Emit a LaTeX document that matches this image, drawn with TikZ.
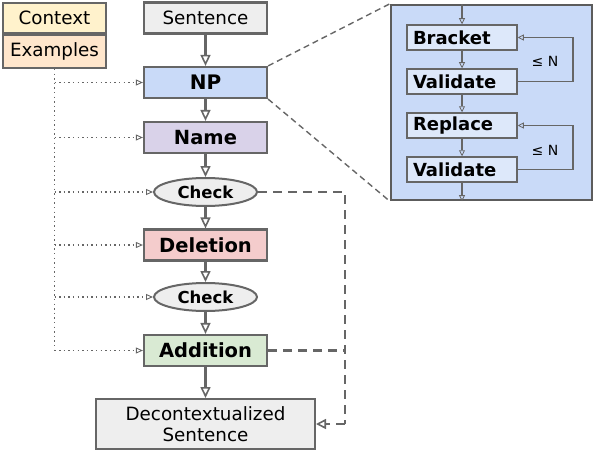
\documentclass[tikz,border=0pt]{standalone}
\usepackage{fontspec}
\setmainfont{DejaVu Sans}
\usetikzlibrary{arrows.meta,shapes.geometric}
\definecolor{bord}{HTML}{666666}
\definecolor{ctxc}{HTML}{FFF2CC}
\definecolor{exc}{HTML}{FFE6CC}
\definecolor{grayc}{HTML}{EEEEEE}
\definecolor{npc}{HTML}{C9DAF8}
\definecolor{namec}{HTML}{D9D2E9}
\definecolor{delc}{HTML}{F4CCCC}
\definecolor{addc}{HTML}{D9EAD3}
\definecolor{innerc}{HTML}{DDE8FA}
\tikzset{
  x=1pt,y=-1pt,
  box/.style={draw=bord, line width=2.2pt, minimum width=123pt, minimum height=31pt, inner sep=0pt, font=\fontsize{19.5}{22}\selectfont\bfseries},
  chk/.style={draw=bord, line width=2pt, ellipse, fill=grayc, minimum width=103pt, minimum height=28pt, inner sep=0pt, font=\fontsize{16.5}{18}\selectfont\bfseries},
  inbox/.style={draw=bord, line width=1.5pt, fill=innerc, minimum height=25pt, inner xsep=6pt, inner ysep=0pt, text width=98pt, align=left, font=\fontsize{18}{20}\selectfont\bfseries},
  mainarr/.style={draw=bord, line width=2.6pt, -{Triangle[open,length=11pt,width=10pt,line width=1.6pt]}},
  dotarr/.style={draw=bord, line width=1.4pt, dash pattern=on 1.4pt off 3.2pt, -{Triangle[open,length=7pt,width=6pt,line width=0.9pt,sep=0pt]}},
  dotline/.style={draw=bord, line width=1.4pt, dash pattern=on 1.4pt off 3.2pt},
  dashline/.style={draw=bord, line width=2.5pt, dash pattern=on 9pt off 6pt},
  dasharr/.style={dashline, -{Triangle[open,length=10pt,width=10pt,line width=1.6pt]}},
  thinarr/.style={draw=bord, line width=1.3pt, -{Triangle[open,length=6pt,width=6pt,line width=0.8pt]}},
  zoomline/.style={draw=bord, line width=1.4pt, dash pattern=on 6pt off 4pt},
}
\begin{document}
\begin{tikzpicture}
\useasboundingbox (0,0) rectangle (594,452);
% left context/examples
\node[draw=bord, line width=2pt, fill=ctxc, minimum width=103pt, minimum height=30pt, inner sep=0pt, font=\fontsize{18.3}{20}\selectfont] (ctx) at (54.5,18) {Context};
\node[draw=bord, line width=2pt, fill=exc, minimum width=103pt, minimum height=33pt, inner sep=0pt, font=\fontsize{18.3}{20}\selectfont, anchor=north] (ex) at (ctx.south) {Examples};
% main column
\node[box, fill=grayc, font=\fontsize{18.3}{20}\selectfont] (sent) at (205.5,18) {Sentence};
\node[box, fill=npc, font=\fontsize{20}{22}\selectfont\bfseries] (np) at (205.5,82.5) {NP};
\node[box, fill=namec] (name) at (205.5,137.5) {Name};
\node[chk] (chk1) at (205.5,192) {Check};
\node[box, fill=delc] (del) at (205.5,245) {Deletion};
\node[chk] (chk2) at (205.5,297) {Check};
\node[box, fill=addc] (add) at (205.5,350.5) {Addition};
\node[draw=bord, line width=2pt, fill=grayc, minimum width=219pt, minimum height=50pt, inner sep=0pt, align=center, font=\fontsize{18.3}{21}\selectfont] (dec) at (205.5,424) {Decontextualized\\Sentence};
% main arrows
\draw[mainarr] (sent) -- (np);
\draw[mainarr] (np) -- (name);
\draw[mainarr] (name) -- (chk1);
\draw[mainarr] (chk1) -- (del);
\draw[mainarr] (del) -- (chk2);
\draw[mainarr] (chk2) -- (add);
\draw[mainarr] (add) -- (dec);
% dotted context lines
\coordinate (vtop) at (ex.south);
\coordinate (vbot) at (ex.south |- add.west);
\draw[dotline] (vtop) -- (vbot);
\draw[dotarr] (ex.south |- np.west) -- (np.west);
\draw[dotarr] (ex.south |- name.west) -- (name.west);
\draw[dotarr] (ex.south |- chk1.west) -- (chk1.west);
\draw[dotarr] (ex.south |- del.west) -- (del.west);
\draw[dotarr] (ex.south |- chk2.west) -- (chk2.west);
\draw[dotarr] (vbot) -- (add.west);
% dashed skip lines
\coordinate (dcorner) at (345,192);
\coordinate (dbot) at (345,424);
\draw[dashline] (chk1.east) -- (dcorner) -- (dbot);
\draw[dashline] (add.east) -- (add.east -| dcorner);
\draw[dasharr] (dbot) -- (dec.east);
% inset panel
\node[draw=bord!90!black, line width=2.4pt, fill=npc, minimum width=201pt, minimum height=195pt, inner sep=0pt] (inset) at (491.5,102.5) {};
\draw[zoomline] (np.north east) -- (inset.north west);
\draw[zoomline] (np.south east) -- (inset.south west);
\node[inbox] (br) at (462,37.5) {Bracket};
\node[inbox] (v1) at (462,81.5) {Validate};
\node[inbox] (rep) at (462,125.5) {Replace};
\node[inbox] (v2) at (462,169.5) {Validate};
\draw[thinarr] (inset.north -| br.north) -- (br.north);
\draw[thinarr] (br) -- (v1);
\draw[thinarr] (v1) -- (rep);
\draw[thinarr] (rep) -- (v2);
\draw[thinarr] (v2.south) -- (v2.south |- inset.south);
\draw[thinarr] (v1.east) -- (573,81.5) -- (573,37.5) -- (br.east);
\draw[thinarr] (v2.east) -- (573,169.5) -- (573,125.5) -- (rep.east);
\node[font=\fontsize{14}{16}\selectfont, inner sep=0pt] (n1) at (545,61) {≤ N};
\node[font=\fontsize{14}{16}\selectfont, inner sep=0pt] (n2) at (545,150) {≤ N};
\end{tikzpicture}
\end{document}
